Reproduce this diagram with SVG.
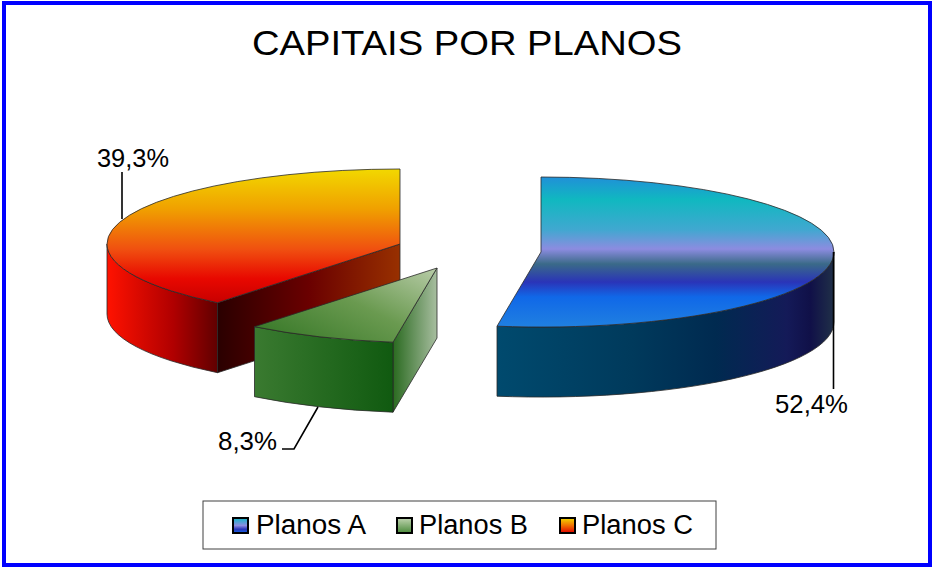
<svg xmlns="http://www.w3.org/2000/svg" width="934" height="568" viewBox="0 0 934 568">
<defs>
<style>
.t{font-family:"Liberation Sans",Arial,sans-serif;fill:#000}
.edge{stroke:#2a2a2a;stroke-width:0.8;stroke-linejoin:round}
.lead{fill:none;stroke:#000;stroke-width:1.6}
.sw{stroke:#000;stroke-width:2}
</style>
<linearGradient id="aTop" x1="0" y1="0" x2="0" y2="1">
<stop offset="0" stop-color="#2090d8"/>
<stop offset="0.15" stop-color="#10b8c0"/>
<stop offset="0.35" stop-color="#40a8d0"/>
<stop offset="0.48" stop-color="#8c8ce0"/>
<stop offset="0.58" stop-color="#3a6a88"/>
<stop offset="0.7" stop-color="#2a34b8"/>
<stop offset="0.8" stop-color="#1068e8"/>
<stop offset="1" stop-color="#2080e0"/>
</linearGradient>
<linearGradient id="aSide" x1="0" y1="0" x2="1" y2="0">
<stop offset="0" stop-color="#004a6e"/>
<stop offset="0.4" stop-color="#003a5c"/>
<stop offset="0.65" stop-color="#002a50"/>
<stop offset="0.86" stop-color="#141a58"/>
<stop offset="0.93" stop-color="#101048"/>
<stop offset="1" stop-color="#203048"/>
</linearGradient>
<linearGradient id="cTop" x1="0" y1="0" x2="0" y2="1">
<stop offset="0" stop-color="#f2d800"/>
<stop offset="0.3" stop-color="#f0a000"/>
<stop offset="0.6" stop-color="#f05010"/>
<stop offset="0.82" stop-color="#e80800"/>
<stop offset="1" stop-color="#c80000"/>
</linearGradient>
<linearGradient id="cSide" x1="0" y1="0" x2="1" y2="0">
<stop offset="0" stop-color="#ff1200"/>
<stop offset="0.6" stop-color="#b00000"/>
<stop offset="1" stop-color="#600000"/>
</linearGradient>
<linearGradient id="cCut" x1="0" y1="0" x2="1" y2="0">
<stop offset="0" stop-color="#2a0000"/>
<stop offset="0.5" stop-color="#6a0000"/>
<stop offset="1" stop-color="#983000"/>
</linearGradient>
<linearGradient id="bTop" x1="0" y1="0.8" x2="1" y2="0">
<stop offset="0" stop-color="#3a7a2a"/>
<stop offset="0.5" stop-color="#6a9a50"/>
<stop offset="1" stop-color="#b8cca8"/>
</linearGradient>
<linearGradient id="bSide" x1="0" y1="0" x2="1" y2="0">
<stop offset="0" stop-color="#3a7a30"/>
<stop offset="1" stop-color="#105a10"/>
</linearGradient>
<linearGradient id="bRight" x1="0" y1="0" x2="1" y2="0">
<stop offset="0" stop-color="#2a6a20"/>
<stop offset="1" stop-color="#a8bea0"/>
</linearGradient>
<linearGradient id="lgA" x1="0" y1="0" x2="0" y2="1">
<stop offset="0" stop-color="#10b8c8"/>
<stop offset="0.5" stop-color="#8c8ce0"/>
<stop offset="0.75" stop-color="#2a34b8"/>
<stop offset="1" stop-color="#1068e8"/>
</linearGradient>
<linearGradient id="lgB" x1="0" y1="0" x2="0" y2="1">
<stop offset="0" stop-color="#c0d4b0"/>
<stop offset="1" stop-color="#4a8a3a"/>
</linearGradient>
<linearGradient id="lgC" x1="0" y1="0" x2="0" y2="1">
<stop offset="0" stop-color="#f2d800"/>
<stop offset="0.5" stop-color="#f07000"/>
<stop offset="1" stop-color="#e00000"/>
</linearGradient>
</defs>
<rect x="0" y="0" width="934" height="568" fill="#fff"/>
<rect x="4" y="3" width="926" height="562" fill="#fff" stroke="#0000ff" stroke-width="4"/>
<text class="t" x="252" y="55" font-size="35" textLength="430" lengthAdjust="spacingAndGlyphs">CAPITAIS POR PLANOS</text>
<g id="slice-planos-c">
<path class="edge" fill="url(#cCut)" d="M400,244 L217.5,302.7 L217.5,372.7 L400,314 Z"/>
<path class="edge" fill="url(#cSide)" d="M217.5,302.7 A293,75 0 0 1 107,244 L107,314 A293,75 0 0 0 217.5,372.7 Z"/>
<path class="edge" fill="url(#cTop)" d="M400,244 L217.5,302.7 A293,75 0 0 1 107,244 A293,75 0 0 1 400,169 Z"/>
</g>
<g id="slice-planos-b">
<path class="edge" fill="url(#bRight)" d="M437,268 L393,342.2 L393,412.2 L437,338 Z"/>
<path class="edge" fill="url(#bSide)" d="M393,342.2 A293,75 0 0 1 254.5,326.7 L254.5,396.7 A293,75 0 0 0 393,412.2 Z"/>
<path class="edge" fill="url(#bTop)" d="M437,268 L393,342.2 A293,75 0 0 1 254.5,326.7 Z"/>
</g>
<g id="slice-planos-a">
<path class="edge" fill="url(#aSide)" d="M834,252 A293,75 0 0 1 497,326.2 L497,396.2 A293,75 0 0 0 834,322 Z"/>
<path class="edge" fill="url(#aTop)" d="M541,252 L541,177 A293,75 0 0 1 834,252 A293,75 0 0 1 497,326.2 Z"/>
</g>
<g id="connectors">
<line class="lead" x1="122" y1="172" x2="122" y2="219"/>
<polyline class="lead" points="282,449 294,449 318,407"/>
<line class="lead" x1="833.5" y1="252" x2="833.5" y2="389"/>
</g>
<g id="labels">
<text class="t" x="97" y="167" font-size="25" textLength="72" lengthAdjust="spacingAndGlyphs">39,3%</text>
<text class="t" x="218" y="450" font-size="25" textLength="59" lengthAdjust="spacingAndGlyphs">8,3%</text>
<text class="t" x="775" y="413" font-size="25" textLength="73" lengthAdjust="spacingAndGlyphs">52,4%</text>
</g>
<g id="legend">
<rect x="203" y="501" width="513" height="48" fill="#fff" stroke="#404040" stroke-width="1"/>
<rect class="sw" x="233" y="518" width="15" height="15" fill="url(#lgA)"/>
<text class="t" x="256" y="534" font-size="27" textLength="110" lengthAdjust="spacingAndGlyphs">Planos A</text>
<rect class="sw" x="397" y="518" width="15" height="15" fill="url(#lgB)"/>
<text class="t" x="419" y="534" font-size="27" textLength="109" lengthAdjust="spacingAndGlyphs">Planos B</text>
<rect class="sw" x="560" y="518" width="15" height="15" fill="url(#lgC)"/>
<text class="t" x="582" y="534" font-size="27" textLength="111" lengthAdjust="spacingAndGlyphs">Planos C</text>
</g>
</svg>
